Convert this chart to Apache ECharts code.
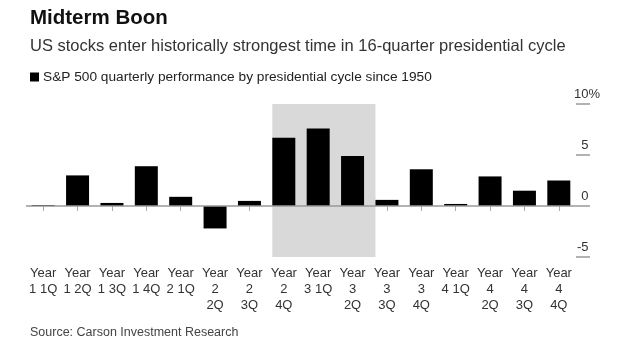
<!DOCTYPE html>
<html>
<head>
<meta charset="utf-8">
<script src="https://cdn.jsdelivr.net/npm/echarts@6/dist/echarts.min.js"></script>
<style>
  html, body { margin: 0; padding: 0; background: #fff; }
  #chart { width: 622px; height: 354px; }
</style>
</head>
<body>
<div id="chart"></div>
<script>
// chart data
const categories = [
  "Year 1 1Q", "Year 1 2Q", "Year 1 3Q", "Year 1 4Q",
  "Year 2 1Q", "Year 2 2Q", "Year 2 3Q", "Year 2 4Q",
  "Year 3 1Q", "Year 3 2Q", "Year 3 3Q", "Year 3 4Q",
  "Year 4 1Q", "Year 4 2Q", "Year 4 3Q", "Year 4 4Q",
];
const tickLabels = [
  "Year\n1 1Q", "Year\n1 2Q", "Year\n1 3Q", "Year\n1 4Q",
  "Year\n2 1Q", "Year\n2\n2Q", "Year\n2\n3Q", "Year\n2\n4Q",
  "Year\n3 1Q", "Year\n3\n2Q", "Year\n3\n3Q", "Year\n3\n4Q",
  "Year\n4 1Q", "Year\n4\n2Q", "Year\n4\n3Q", "Year\n4\n4Q",
];
const performance = [0.1, 3.0, 0.3, 3.9, 0.9, -2.2, 0.5, 6.7, 7.6, 4.9, 0.6, 3.6, 0.2, 2.9, 1.5, 2.5];
const yMin = -5;
const yMax = 10;
const yStep = 5;
const midtermFrom = "Year 2 4Q";
const midtermTo = "Year 3 2Q";

const seriesName = "S&P 500 quarterly performance by presidential cycle since 1950";
const FONT = "'Liberation Sans', Arial, sans-serif";

const gridLeft = 26;
const gridRight = 46;
const barW = 23;
const catW = (622 - gridLeft - gridRight) / categories.length;
const shift = barW / 2 / catW;
const bandStart = categories.indexOf(midtermFrom) - shift;
const bandEnd = categories.indexOf(midtermTo) + 1 - shift;

const chart = echarts.init(document.getElementById("chart"), null, { renderer: "canvas" });

const option = {
  backgroundColor: "#fff",
  animation: false,
  textStyle: { fontFamily: FONT },
  title: [
    {
      text: "Midterm Boon",
      left: 30, top: 8, padding: 0,
      textStyle: { fontFamily: FONT, fontSize: 20.5, fontWeight: "bold", color: "#111" },
    },
    {
      text: "US stocks enter historically strongest time in 16-quarter presidential cycle",
      left: 30, top: 38, padding: 0,
      textStyle: { fontFamily: FONT, fontSize: 16.5, fontWeight: "normal", color: "#333" },
    },
    {
      text: "Source: Carson Investment Research",
      left: 30, top: 326, padding: 0,
      textStyle: { fontFamily: FONT, fontSize: 12.5, fontWeight: "normal", color: "#444" },
    },
  ],
  legend: {
    data: [seriesName],
    left: 30, top: 70, padding: 0,
    icon: "rect",
    itemWidth: 9, itemHeight: 9, itemGap: 4,
    textStyle: { fontFamily: FONT, fontSize: 13.7, color: "#222", padding: [0, 0, 0, -1] },
  },
  grid: { left: gridLeft, right: gridRight, top: 104, bottom: 354 - 257, containLabel: false },
  xAxis: [
    {
      type: "category",
      data: categories,
      axisLine: { show: false },
      axisTick: { show: true, alignWithLabel: true, length: 5, lineStyle: { color: "#aaa" } },
      axisLabel: {
        interval: 0,
        margin: 8,
        fontSize: 13,
        lineHeight: 16,
        color: "#333",
        formatter: (v, i) => tickLabels[i],
      },
    },
    {
      type: "value",
      min: -0.5,
      max: categories.length - 0.5,
      show: false,
    },
  ],
  yAxis: {
    type: "value",
    position: "right",
    min: yMin,
    max: yMax,
    interval: yStep,
    splitLine: { show: false },
    axisLine: { show: false, onZero: false },
    axisTick: { show: true, length: 14, lineStyle: { color: "#999", width: 1.5 } },
    axisLabel: {
      margin: 24,
      align: "right",
      verticalAlign: "bottom",
      padding: [0, 0, 3, 0],
      fontSize: 13,
      color: "#333",
      formatter: (v) => (v === yMax ? v + "%" : v + "{h|%}"),
      rich: { h: { color: "rgba(0,0,0,0)", fontSize: 13 } },
    },
  },
  series: [
    {
      name: "midterm-band",
      type: "scatter",
      xAxisIndex: 1,
      data: [],
      silent: true,
      markArea: {
        silent: true,
        itemStyle: { color: "#d9d9d9" },
        data: [[{ xAxis: bandStart, yAxis: yMin }, { xAxis: bandEnd, yAxis: yMax }]],
      },
    },
    {
      name: seriesName,
      type: "bar",
      data: performance,
      barWidth: barW,
      itemStyle: { color: "#000" },
      z: 3,
      markLine: {
        silent: true,
        symbol: "none",
        label: { show: false },
        lineStyle: { color: "#999", width: 1.5, type: "solid" },
        data: [{ yAxis: 0 }],
      },
    },
  ],
};

chart.setOption(option);
</script>
</body>
</html>
